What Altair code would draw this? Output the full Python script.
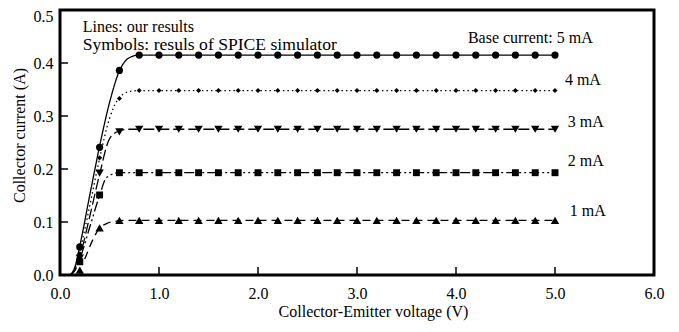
import altair as alt
import pandas as pd

SERIES = ["5 mA", "4 mA", "3 mA", "2 mA", "1 mA"]

# ---- simulated (SPICE) symbols ----
MARKER_V = [0.2, 0.4, 0.6, 0.8, 1.0, 1.2, 1.4, 1.6, 1.8, 2.0, 2.2, 2.4, 2.6,
            2.8, 3.0, 3.2, 3.4, 3.6, 3.8, 4.0, 4.2, 4.4, 4.6, 4.8, 5.0]
MARK_5 = [0.053, 0.241, 0.386, 0.415, 0.415, 0.415, 0.415, 0.415, 0.415, 0.415, 0.415, 0.415, 0.415,
          0.415, 0.415, 0.415, 0.415, 0.415, 0.415, 0.415, 0.415, 0.415, 0.415, 0.415, 0.415]
MARK_4 = [0.040, 0.221, 0.333, 0.348, 0.348, 0.348, 0.348, 0.348, 0.348, 0.348, 0.348, 0.348, 0.348,
          0.348, 0.348, 0.348, 0.348, 0.348, 0.348, 0.348, 0.348, 0.348, 0.348, 0.348, 0.348]
MARK_3 = [0.032, 0.192, 0.270, 0.275, 0.275, 0.275, 0.275, 0.275, 0.275, 0.275, 0.275, 0.275, 0.275,
          0.275, 0.275, 0.275, 0.275, 0.275, 0.275, 0.275, 0.275, 0.275, 0.275, 0.275, 0.275]
MARK_2 = [0.025, 0.151, 0.193, 0.193, 0.193, 0.193, 0.193, 0.193, 0.193, 0.193, 0.193, 0.193, 0.193,
          0.193, 0.193, 0.193, 0.193, 0.193, 0.193, 0.193, 0.193, 0.193, 0.193, 0.193, 0.193]
MARK_1 = [0.009, 0.089, 0.103, 0.103, 0.103, 0.103, 0.103, 0.103, 0.103, 0.103, 0.103, 0.103, 0.103,
          0.103, 0.103, 0.103, 0.103, 0.103, 0.103, 0.103, 0.103, 0.103, 0.103, 0.103, 0.103]

# ---- model lines ----
LINE_V_5 = [0.10, 0.15, 0.20, 0.30, 0.40, 0.50, 0.60, 0.70, 0.80, 5.00]
LINE_I_5 = [0.000, 0.015, 0.055, 0.150, 0.243, 0.325, 0.385, 0.410, 0.415, 0.415]
LINE_V_4 = [0.10, 0.15, 0.20, 0.30, 0.40, 0.50, 0.58, 0.70, 0.80, 5.00]
LINE_I_4 = [0.000, 0.012, 0.045, 0.130, 0.220, 0.295, 0.330, 0.346, 0.348, 0.348]
LINE_V_3 = [0.10, 0.15, 0.20, 0.30, 0.40, 0.50, 0.60, 0.70, 5.00]
LINE_I_3 = [0.000, 0.010, 0.035, 0.110, 0.190, 0.257, 0.272, 0.275, 0.275]
LINE_V_2 = [0.10, 0.15, 0.20, 0.30, 0.40, 0.47, 0.60, 5.00]
LINE_I_2 = [0.000, 0.008, 0.030, 0.090, 0.150, 0.184, 0.193, 0.193]
LINE_V_1 = [0.25, 0.40, 0.47, 0.55, 0.65, 5.00]
LINE_I_1 = [0.030, 0.088, 0.097, 0.101, 0.103, 0.103]

# ---- annotations ----
ANNOT_TEXT = ["Lines: our results", "Symbols: resuls of SPICE simulator",
              "Base current: 5 mA", "4 mA", "3 mA", "2 mA", "1 mA"]
ANNOT_V = [0.23, 0.23, 4.12, 5.10, 5.13, 5.13, 5.15]
ANNOT_I = [0.4585, 0.4245, 0.438, 0.358, 0.279, 0.206, 0.111]

X_TICKS = [1, 2, 3, 4, 5]
Y_TICKS = [0.1, 0.2, 0.3, 0.4]
X_LABELS = [0, 1, 2, 3, 4, 5, 6]
Y_LABELS = [0.0, 0.1, 0.2, 0.3, 0.4, 0.5]

FONT = "Liberation Serif"

# marker style per series (style, not data)
SHAPES = {"5 mA": ("circle", 52), "4 mA": ("diamond", 26), "3 mA": ("triangle-down", 70),
          "2 mA": ("square", 48), "1 mA": ("triangle-up", 70)}

marks = []
for s, vals in zip(SERIES, [MARK_5, MARK_4, MARK_3, MARK_2, MARK_1]):
    for v, i in zip(MARKER_V, vals):
        marks.append({"series": s, "v": v, "i": i})
marks = pd.DataFrame(marks)

lines = []
for s, vs, iis in zip(SERIES,
                      [LINE_V_5, LINE_V_4, LINE_V_3, LINE_V_2, LINE_V_1],
                      [LINE_I_5, LINE_I_4, LINE_I_3, LINE_I_2, LINE_I_1]):
    for k, (v, i) in enumerate(zip(vs, iis)):
        lines.append({"series": s, "v": v, "i": i, "k": k})
lines = pd.DataFrame(lines)

annots = pd.DataFrame({"t": ANNOT_TEXT, "v": ANNOT_V, "i": ANNOT_I})
xt = pd.DataFrame({"v": X_TICKS})
yt = pd.DataFrame({"i": Y_TICKS})

xs = alt.Scale(domain=[0, 6], nice=False, zero=False)
ys = alt.Scale(domain=[0, 0.5], nice=False, zero=False)

X = alt.X("v:Q", scale=xs,
          axis=alt.Axis(values=X_LABELS, format=".1f", title="Collector-Emitter voltage (V)",
                        titleX=313, titleY=36, titleBaseline="middle", labelPadding=10,
                        labelFlush=False))
Y = alt.Y("i:Q", scale=ys,
          axis=alt.Axis(values=Y_LABELS, format=".1f", title="Collector current (A)",
                        titleX=-41, titleY=125, titleBaseline="middle", titleAngle=270,
                        labelPadding=7, labelFlush=False,
                        labelOffset={"condition": {"test": "datum.value >= 0.5", "value": 6},
                                     "value": 0}))

line_layer = alt.Chart(lines).mark_line(color="black", strokeWidth=1.3,
                                        interpolate="monotone", clip=True).encode(
    x=X, y=Y,
    detail="series:N",
    order="k:Q",
    strokeDash=alt.StrokeDash("series:N", legend=None,
                              scale=alt.Scale(domain=SERIES,
                                              range=[[1, 0], [1.5, 3], [11, 4],
                                                     [10, 3, 2, 3, 2, 3], [8, 5]])),
)

point_layers = []
for s in SERIES:
    shp, sz = SHAPES[s]
    point_layers.append(
        alt.Chart(marks).transform_filter(alt.datum.series == s).mark_point(
            filled=True, color="black", opacity=1, strokeWidth=0, shape=shp, size=sz
        ).encode(x=alt.X("v:Q", scale=xs), y=alt.Y("i:Q", scale=ys))
    )

text_base = alt.Chart(annots).encode(
    x=alt.X("v:Q", scale=xs), y=alt.Y("i:Q", scale=ys), text="t:N")
text_layer = text_base.mark_text(align="left", baseline="alphabetic",
                                 font=FONT, fontSize=16, color="black").transform_filter(
    alt.datum.t != ANNOT_TEXT[1])
text_wide = text_base.mark_text(align="left", baseline="alphabetic",
                                font=FONT, fontSize=17.6, color="black").transform_filter(
    alt.datum.t == ANNOT_TEXT[1])

xtick_layer = alt.Chart(xt).mark_rule(color="black", strokeWidth=1.5).encode(
    x=alt.X("v:Q", scale=xs), y=alt.value(265), y2=alt.value(257))
ytick_layer = alt.Chart(yt).mark_rule(color="black", strokeWidth=1.5).encode(
    y=alt.Y("i:Q", scale=ys), x=alt.value(0), x2=alt.value(8))

chart = alt.layer(line_layer, *point_layers, xtick_layer, ytick_layer,
                  text_layer, text_wide).properties(
    width=594, height=265,
    autosize=alt.AutoSizeParams(type="none"),
    padding={"left": 52, "top": 2, "right": 17, "bottom": 49},
    background="white",
).configure_view(
    stroke="black", strokeWidth=3
).configure_axis(
    domain=False, ticks=False, grid=False,
    labelFont=FONT, labelFontSize=16, labelColor="black",
    titleFont=FONT, titleFontSize=16, titleFontWeight="normal", titleColor="black",
)

chart.save("out.html", embed_options={"renderer": "svg", "actions": False})
